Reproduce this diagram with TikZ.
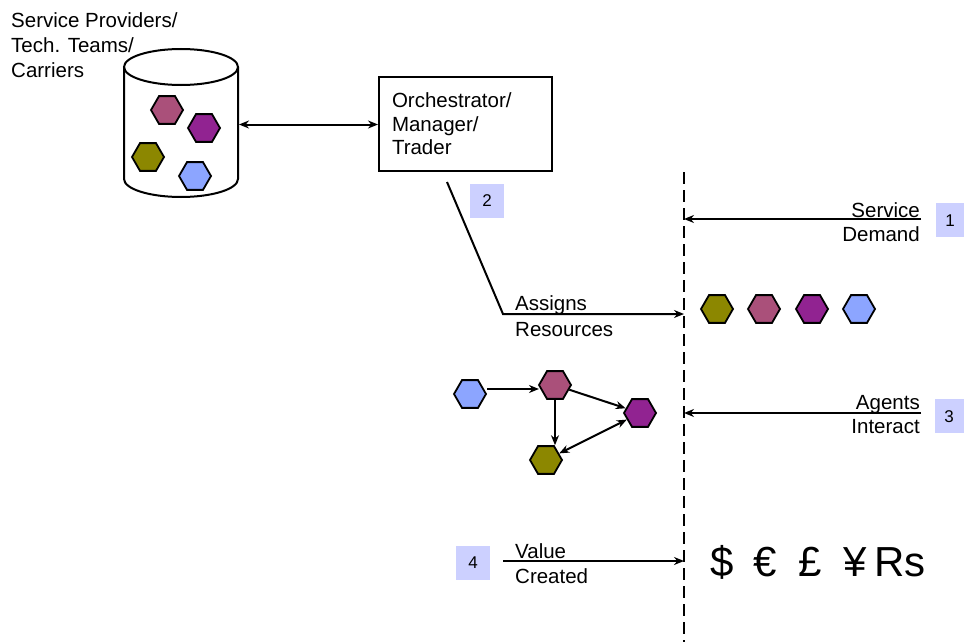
\documentclass[tikz,border=0pt]{standalone}
\usepackage{fontspec}
\setmainfont{Liberation Sans}
\usetikzlibrary{shapes.geometric,arrows.meta}
\definecolor{hpink}{RGB}{170,80,122}
\definecolor{hpurple}{RGB}{145,35,145}
\definecolor{holive}{RGB}{140,135,0}
\definecolor{hblue}{RGB}{140,165,255}
\definecolor{lav}{RGB}{204,208,255}
\tikzset{
  hexa/.style={regular polygon, regular polygon sides=6, minimum size=32pt, inner sep=0pt, draw=black, line width=1.8pt},
  lbl/.style={inner sep=0pt, font=\fontsize{20.5}{24}\selectfont},
  numbox/.style={fill=lav, minimum width=34pt, minimum height=34pt, inner sep=0pt, font=\fontsize{17}{20}\selectfont},
  arr/.style={line width=2pt, -{Stealth[length=10pt,width=8pt]}},
  darr/.style={line width=2pt, {Stealth[length=10pt,width=8pt]}-{Stealth[length=10pt,width=8pt]}},
  cur/.style={inner sep=0pt, anchor=base west, font=\fontsize{42}{48}\selectfont},
}
\begin{document}
\begin{tikzpicture}[x=1pt,y=-1pt]
\useasboundingbox (0,0) rectangle (964,642);
\clip (0,0) rectangle (964,642);

% top-left label
\node[lbl, anchor=north west, align=left, font=\fontsize{20.5}{25}\selectfont] (prov) at (11,12.5)
  {Service Providers/\\Tech. Teams/\\Carriers};

% cylinder
\draw[line width=2pt, fill=white] (124,67) -- (124,179)
  arc[start angle=180, end angle=0, x radius=57, y radius=18] -- (238,67);
\draw[line width=2pt] (181,67) ellipse[x radius=57, y radius=18];
\coordinate (cylR) at (239,124.5);

\node[hexa, fill=hpink]   (c1) at (167,110) {};
\node[hexa, fill=hpurple] (c2) at (204,128) {};
\node[hexa, fill=holive]  (c3) at (148,157) {};
\node[hexa, fill=hblue]   (c4) at (195,176) {};

% orchestrator box
\node[draw, line width=2pt, minimum width=173pt, minimum height=94pt,
      text width=147pt, inner xsep=13pt, align=left,
      font=\fontsize{20.5}{23.5}\selectfont] (box) at (465.5,124)
  {Orchestrator/\\Manager/\\Trader};
\draw[darr] (cylR) -- (box.west |- cylR);

% dashed divider
\coordinate (dtop) at (684,172);
\coordinate (dbot) at (684,642);
\draw[line width=1.5pt, dash pattern=on 12pt off 6pt] (dtop) -- (dbot);

% step 1
\coordinate (s1r) at (921,219);
\draw[arr] (s1r) -- (s1r -| dtop);
\node[lbl, anchor=north east, align=right] (sdem) at (920,202.5) {Service\\Demand};
\node[numbox, anchor=north west] (n1) at (936,203) {\hspace*{-6pt}1};

% step 2
\node[numbox] (n2) at (487,201) {2};
\coordinate (b2s) at (447,182);
\coordinate (b2c) at (503,314);
\draw[arr, line join=miter] (b2s) -- (b2c) -- (b2c -| dtop);
\node[lbl, anchor=north west, align=left, font=\fontsize{20.5}{26}\selectfont] (assign) at (515,295.5) {Assigns\\Resources};

\node[hexa, fill=holive]  (r1) at (717,309) {};
\node[hexa, fill=hpink]   (r2) at (764,309) {};
\node[hexa, fill=hpurple] (r3) at (812,309) {};
\node[hexa, fill=hblue]   (r4) at (859,309) {};

% step 3 graph
\node[hexa, fill=hblue]   (g1) at (470,394) {};
\node[hexa, fill=hpink]   (g2) at (555,385) {};
\node[hexa, fill=hpurple] (g3) at (640,413) {};
\node[hexa, fill=holive]  (g4) at (546,460) {};
\draw[arr] ([yshift=5pt]g1.east) -- ([yshift=-4pt,xshift=1pt]g2.west);
\draw[arr] (g2) -- (g3);
\draw[arr] (g2.south) -- (g2.south |- g4.north);
\draw[darr] (g4) -- (g3);

\coordinate (s3r) at (921,413);
\draw[arr] (s3r) -- (s3r -| dtop);
\node[lbl, anchor=north east, align=right] (agents) at (920,395.5) {Agents\\Interact};
\node[numbox, anchor=north west] (n3) at (935,399) {\hspace*{-6pt}3};

% step 4
\node[numbox] (n4) at (473,562.5) {4};
\coordinate (s4l) at (503,561);
\draw[arr] (s4l) -- (s4l -| dtop);
\node[lbl, anchor=north west, align=left, font=\fontsize{20.5}{25}\selectfont] (value) at (515,543.5) {Value\\Created};

\node[cur] (m1) at (710,576) {\$};
\node[cur] (m2) at (753,576) {€};
\node[cur] (m3) at (798,576) {£};
\node[cur] (m4) at (843,576) {¥};
\node[cur] (m5) at (874,576) {Rs};
\end{tikzpicture}
\end{document}
